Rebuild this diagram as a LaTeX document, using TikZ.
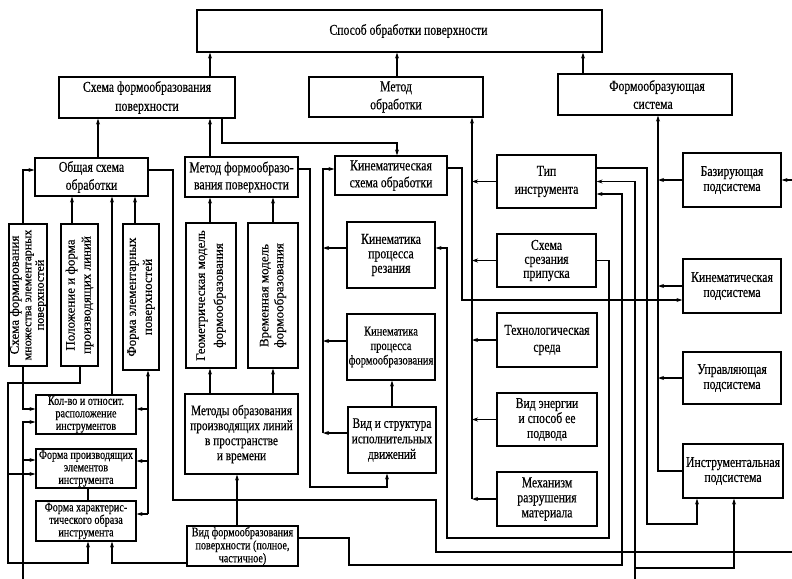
\documentclass[tikz,border=0pt]{standalone}
\usepackage{fontspec}
\setmainfont{Liberation Serif}[FakeStretch=0.78,FakeBold=0.4]
\newfontfamily\vfont{Liberation Serif}[FakeBold=0.4]
\usetikzlibrary{arrows.meta}
\tikzset{
  box/.style={draw, line width=1.2pt, inner sep=0pt, align=center, font=\fontsize{15}{17}\selectfont},
  sbox/.style={font=\fontsize{13}{12.5}\selectfont},
  vtxt/.style={rotate=90, align=center, inner sep=0pt, font=\vfont\fontsize{13}{16}\selectfont},
  ln/.style={line width=1.2pt},
  arr/.style={ln, -{Stealth[length=6pt,width=4pt]}},
}
\newcommand\bx[7][]{\node[box,#1,minimum width={#5-#3},minimum height={#6-#4}] (#2) at ({(#3+#5)/2},{(#4+#6)/2}) {#7};}
\begin{document}
\begin{tikzpicture}[x=1pt,y=-1pt]
\useasboundingbox (0,0) rectangle (792,578);
% ---------- boxes ----------
\bx{Top}{197}{10}{602}{52}{\hspace*{18pt}Способ обработки поверхности}
\bx[font=\fontsize{15}{19}\selectfont]{S1}{59}{77}{235}{118}{Схема формообразования\\поверхности}
\bx[font=\fontsize{15}{18}\selectfont]{M1}{309}{77}{483}{117}{Метод\\обработки}
\bx[font=\fontsize{15}{18}\selectfont]{F1}{558}{74}{732}{115}{\hspace*{24pt}Формообразующая\\\hspace*{16pt}система}
\bx[font=\fontsize{15}{18}\selectfont]{O}{35}{158}{148}{196}{Общая схема\\обработки}
\bx{MF}{185}{157}{298}{197}{Метод формообразо-\\вания поверхности}
\bx{KS}{335}{156}{447}{195}{Кинематическая\\схема обработки}
\bx[font=\fontsize{15}{14.5}\selectfont]{KR}{347}{222}{435}{288}{Кинематика\\процесса\\резания}
\bx[font=\fontsize{13.5}{14.5}\selectfont]{KF}{347}{314}{435}{380}{Кинематика\\процесса\\формообразования}
\bx[font=\fontsize{14.5}{15.5}\selectfont]{VS}{348}{407}{436}{473}{Вид и структура\\исполнительных\\движений}
\bx[font=\fontsize{15}{18}\selectfont]{Tip}{497}{155}{596}{208}{Тип\\инструмента}
\bx[font=\fontsize{15}{14}\selectfont]{SS}{497}{234}{596}{287}{Схема\\срезания\\припуска}
\bx{TS}{497}{313}{597}{367}{Технологическая\\среда}
\bx[font=\fontsize{15}{15}\selectfont]{VE}{497}{393}{597}{446}{Вид энергии\\и способ ее\\подвода}
\bx[font=\fontsize{15}{15}\selectfont]{Mex}{497}{472}{597}{526}{Механизм\\разрушения\\материала}
\bx[font=\fontsize{15}{15}\selectfont]{Baz}{683}{153}{781}{207}{Базирующая\\подсистема}
\bx[font=\fontsize{15}{15}\selectfont]{KinP}{683}{259}{781}{313}{Кинематическая\\подсистема}
\bx[font=\fontsize{15}{15}\selectfont]{Upr}{683}{352}{781}{404}{Управляющая\\подсистема}
\bx[font=\fontsize{15}{15}\selectfont]{Ins}{683}{444}{783}{498}{Инструментальная\\подсистема}
\bx[font=\fontsize{14.5}{15}\selectfont]{MO}{185}{394}{298}{474}{Методы образования\\производящих линий\\в пространстве\\и времени}
\bx[sbox]{KO}{36}{395}{136}{434}{Кол-во и относит.\\расположение\\инструментов}
\bx[sbox]{FP}{36}{449}{136}{488}{Форма производящих\\элементов\\инструмента}
\bx[sbox]{FH}{36}{501}{136}{541}{Форма характерис-\\тического образа\\инструмента}
\bx[font=\fontsize{13}{13}\selectfont]{VF}{187}{526}{298}{566}{Вид формообразования\\поверхности (полное,\\частичное)}
% vertical boxes
\bx{SF}{9}{224}{47}{366}{}
\bx{P}{61}{224}{98}{366}{}
\bx{FE}{123}{224}{159}{370}{}
\bx{G}{186}{223}{236}{368}{}
\bx{V}{248}{223}{298}{368}{}
\node[vtxt, font=\vfont\fontsize{12}{12.5}\selectfont] (tSF) at (SF) {{\fontsize{13}{13}\selectfont Схема формирования}\\множества элементарных\\поверхностей};
\node[vtxt] (tP) at (P) {Положение и форма\\производящих линий};
\node[vtxt] (tFE) at (FE) {Форма элементарных\\поверхностей};
\node[vtxt, font=\vfont\fontsize{13}{18}\selectfont] (tG) at (G) {Геометрическая модель\\формообразования};
\node[vtxt, font=\vfont\fontsize{13}{15}\selectfont] (tV) at (V) {Временная модель\\формообразования};
% ---------- helper coordinates ----------
\foreach \v in {8,23,72,80,88,98,112,135,148,173,210,222,237,273,310,323,349,387,392,397,436,447,462,472,583,609,622,635,647,658,697,734,800}
  {\coordinate (X\v) at (\v,0);}
\foreach \v in {143,168,169,170,194,248,300,341,383,409,422,433,460,461,474,487,500,514,524,538,552,563,565,568,590}
  {\coordinate (Y\v) at (0,\v);}
% ---------- connectors ----------
\draw[arr] (S1.north -| X210) -- (Top.south -| X210);
\draw[arr] (M1.north -| X397) -- (Top.south -| X397);
\draw[arr] (F1.north -| X583) -- (Top.south -| X583);
\draw[arr] (O.north -| X98) -- (S1.south -| X98);
\draw[arr] (MF.north -| X210) -- (S1.south -| X210);
\draw[arr] (S1.south -| X222) -- (X222 |- Y143) -- (X397 |- Y143) -- (KS.north -| X397);
% Метод обработки bus
\draw[arr] (Mex.west -| X472) -- (M1.south -| X472);
\foreach \n in {Tip,SS,TS,VE,Mex} {\draw[arr] (\n.west) -- (\n.west -| X472);}
% Формообразующая система bus
\draw[arr] (Ins.west) -- (Ins.west -| X658) -- (F1.south -| X658);
\foreach \n in {Baz,KinP,Upr} {\draw[arr] (\n.west) -- (\n.west -| X658);}
% Общая схема children
\draw[arr] (P.north -| X72) -- (O.south -| X72);
\draw[arr] (FE.north -| X135) -- (O.south -| X135);
\draw[arr] (KO.north -| X112) -- (O.south -| X112);
\draw[arr] (SF.north -| X23) -- (X23 |- Y170) -- (O.west |- Y170);
\draw[arr] (SF.south -| X23) -- (X23 |- Y409) -- (KO.west |- Y409);
% Общая схема -> Базирующая подсистема
\draw[arr] (O.east |- Y170) -- (X173 |- Y170) -- (X173 |- Y500) -- (X436 |- Y500) -- (X436 |- Y552) -- (X800 |- Y552) -- (X800 |- Baz.east) -- (Baz.east);
% Метод формообразования -> Вид и структура
\draw[arr] (MF.east |- Y169) -- (X310 |- Y169) -- (X310 |- Y487) -- (X387 |- Y487) -- (VS.south -| X387);
% bus 323 -> Кинематическая схема
\draw[arr] (VS.west |- Y433) -- (X323 |- Y433);
\draw[arr] (X323 |- Y433) -- (X323 |- Y169) -- (KS.west |- Y169);
\draw[arr] (KR.west |- Y248) -- (X323 |- Y248);
\draw[arr] (KF.west |- Y341) -- (X323 |- Y341);
\draw[arr] (VS.north -| X392) -- (KF.south -| X392);
% Кинематическая схема -> Кинематическая подсистема
\draw[arr] (KS.east |- Y168) -- (X462 |- Y168) -- (X462 |- Y300) -- (KinP.west |- Y300);
% Схема срезания -> Кинематика резания
\draw[arr] (SS.east) -- (X609 |- SS.east) -- (X609 |- Y538) -- (X447 |- Y538) -- (X447 |- Y248) -- (KR.east |- Y248);
% Тип инструмента -> Инструментальная
\draw[arr] (Tip.east |- Y168) -- (X647 |- Y168) -- (X647 |- Y524) -- (X697 |- Y524) -- (Ins.south -| X697);
% long bottom line
\draw[arr] (X635 |- Y590) -- (X635 |- Tip.east) -- (Tip.east);
\draw[arr] (X635 |- Y568) -- (X734 |- Y568) -- (Ins.south -| X734);
\draw[arr] (X635 |- Y590) -- (X23 |- Y590) -- (X23 |- Y422) -- (KO.west |- Y422);
\draw[arr] (X23 |- Y460) -- (FP.west |- Y460);
% Вид формообразования
\draw[arr] (VF.east |- Y538) -- (X349 |- Y538) -- (X349 |- Y565) -- (X622 |- Y565) -- (X622 |- Y194) -- (Tip.east |- Y194);
\draw[arr] (VF.north -| X237) -- (MO.south -| X237);
\draw[arr] (VF.west |- Y563) -- (X112 |- Y563) -- (FH.south -| X112);
% Методы образования -> модели -> Метод формообразования
\draw[arr] (MO.north -| X210) -- (G.south -| X210);
\draw[arr] (MO.north -| X273) -- (V.south -| X273);
\draw[arr] (G.north -| X210) -- (MF.south -| X210);
\draw[arr] (V.north -| X273) -- (MF.south -| X273);
% Положение и форма -> инструмент
\draw[arr] (P.south -| X80) -- (X80 |- Y383) -- (X8 |- Y383) -- (X8 |- Y563) -- (X88 |- Y563) -- (FH.south -| X88);
\draw[arr] (X8 |- Y474) -- (FP.west |- Y474);
% Форма элементарных поверхностей bus
\draw[arr] (X148 |- Y514) -- (FE.south -| X148);
\draw[arr] (X148 |- Y409) -- (KO.east |- Y409);
\draw[arr] (X148 |- Y461) -- (FP.east |- Y461);
\draw[arr] (X148 |- Y514) -- (FH.east |- Y514);
\draw[ln] (FP.south -| X88) -- (FH.north -| X88);
\end{tikzpicture}
\end{document}
